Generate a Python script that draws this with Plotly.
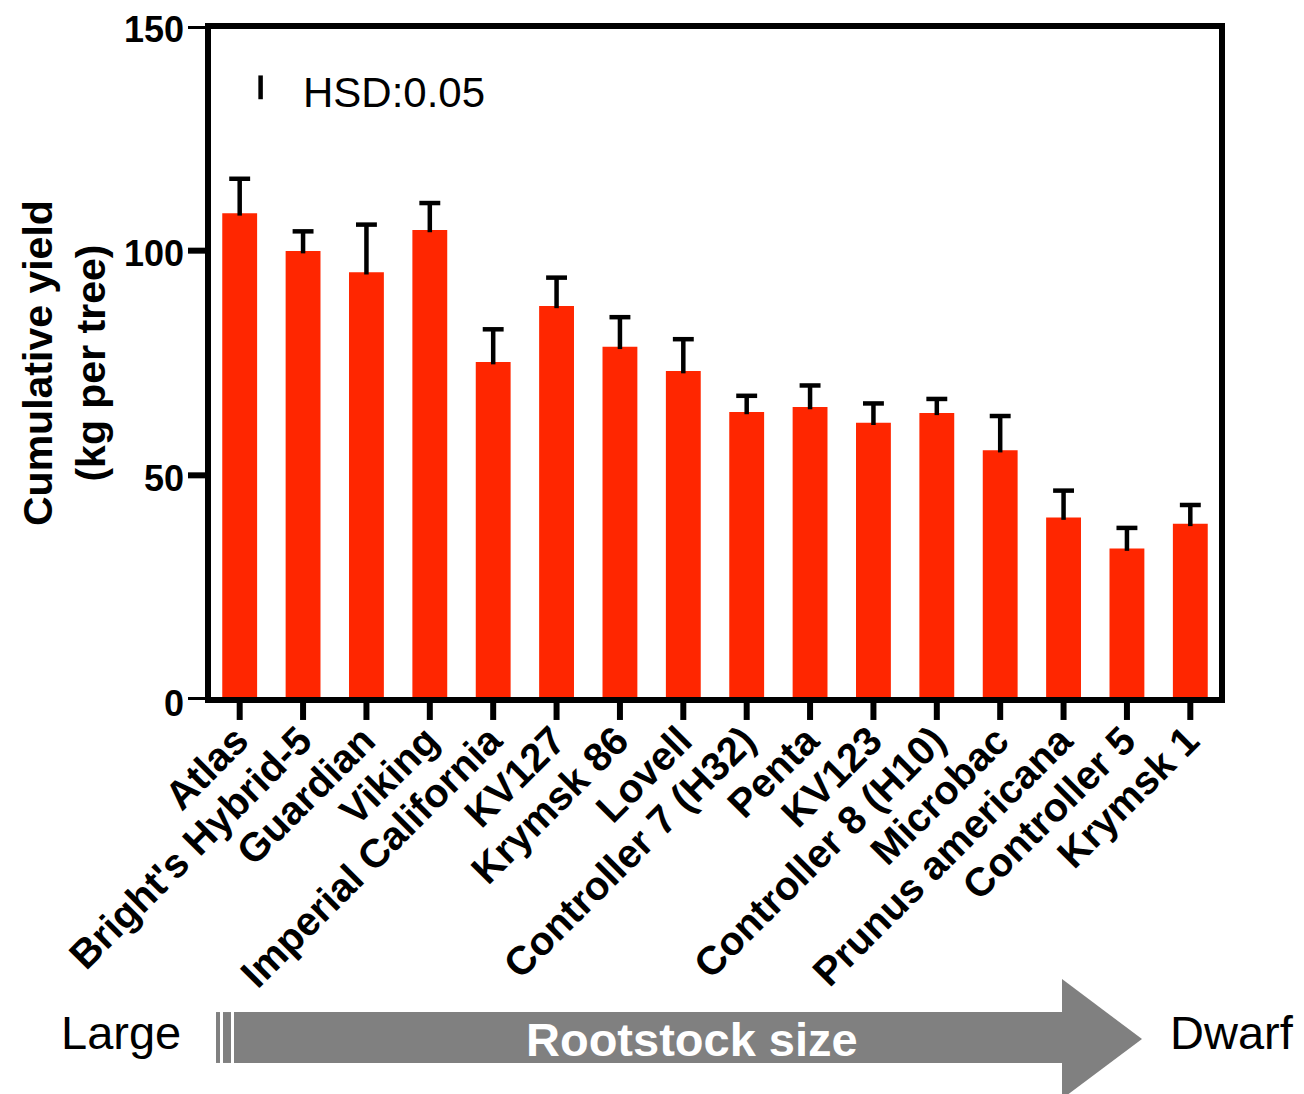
import plotly.graph_objects as go

# ---------------- data ----------------
categories = ["Atlas", "Bright's Hybrid-5", "Guardian", "Viking", "Imperial California",
              "KV127", "Krymsk 86", "Lovell", "Controller 7 (H32)", "Penta", "KV123",
              "Controller 8 (H10)", "Microbac", "Prunus americana", "Controller 5", "Krymsk 1"]
yield_kg = [108.3, 99.9, 95.2, 104.6, 75.2, 87.7, 78.6, 73.2, 64.1, 65.2, 61.7, 63.9,
            55.6, 40.6, 33.7, 39.2]
error_kg = [7.7, 4.4, 10.6, 6.0, 7.3, 6.3, 6.6, 7.1, 3.6, 4.8, 4.3, 3.1,
            7.6, 6.0, 4.6, 4.2]
y_ticks = [0, 50, 100, 150]
hsd_value = 5.3
hsd_label = "HSD:0.05"
y_title = "Cumulative yield<br>(kg per tree)"
arrow_label = "Rootstock size"
left_label = "Large"
right_label = "Dwarf"

# ---------------- layout geometry (pixels, in reference image coords) ----------------
OFF = 8                      # page body margin of the html page
W, H = 1304 - OFF, 1094 - OFF
PL, PR = 208, 1222           # plot area left/right (reference coords)
PT, PB = 25.5, 700.5         # plot area top/bottom (reference coords)
pw, ph = PR - PL, PB - PT
TICK = 20                    # tick length in px


def fx(x):
    return (x - PL) / pw


def fy(y):
    return (PB - y) / ph


bar_color = "#ff2600"
n = len(categories)
idx = list(range(n))

fig = go.Figure()
fig.add_trace(go.Bar(x=idx, y=yield_kg, width=0.55, marker=dict(color=bar_color, line=dict(width=0)),
                     showlegend=False, hoverinfo="skip"))

# upward-only error bars
cap = 0.165
ex, ey = [], []
for i, (v, e) in enumerate(zip(yield_kg, error_kg)):
    ex += [i, i, None, i - cap, i + cap, None]
    ey += [v - 0.5, v + e, None, v + e, v + e, None]
fig.add_trace(go.Scatter(x=ex, y=ey, mode="lines", line=dict(color="black", width=4.5),
                         showlegend=False, hoverinfo="skip"))

font_main = "Liberation Sans, Arial, sans-serif"

shapes = []
# frame
shapes.append(dict(type="rect", xref="paper", yref="paper", x0=0, y0=0, x1=1, y1=1,
                   line=dict(color="black", width=6), layer="above"))
# axis ticks (outside, 20 px)
for i in idx:
    shapes.append(dict(type="line", xref="x", yref="paper", x0=i, x1=i, y0=0, y1=fy(PB + TICK),
                       line=dict(color="black", width=6), layer="above"))
for t in y_ticks:
    shapes.append(dict(type="line", xref="paper", yref="y", x0=0, x1=fx(PL - TICK), y0=t, y1=t,
                       line=dict(color="black", width=6), layer="above"))
# HSD bar
hsd_x = 0.33
hsd_base = 133.7
shapes.append(dict(type="line", xref="x", yref="y", x0=hsd_x, x1=hsd_x, y0=hsd_base,
                   y1=hsd_base + hsd_value, line=dict(color="black", width=4.5)))
# arrow
gray = "#808080"
for (x0, x1) in [(216, 220), (223, 231), (234, 1063)]:
    shapes.append(dict(type="rect", xref="paper", yref="paper", x0=fx(x0), x1=fx(x1),
                       y0=fy(1064), y1=fy(1013), fillcolor=gray, line=dict(width=0)))
path = "M {},{} L {},{} L {},{} Z".format(fx(1062), fy(980), fx(1142), fy(1040), fx(1062), fy(1100))
shapes.append(dict(type="path", xref="paper", yref="paper", path=path, fillcolor=gray,
                   line=dict(width=0)))

annotations = [
    dict(text=hsd_label, xref="paper", yref="paper", x=fx(301), y=fy(92), xanchor="left",
         yanchor="middle", showarrow=False, font=dict(family=font_main, size=42, color="black")),
    dict(text="<b>" + y_title + "</b>", xref="paper", yref="paper", x=fx(64), y=fy(363),
         xanchor="center", yanchor="middle", textangle=-90, showarrow=False,
         font=dict(family=font_main, size=41, color="black")),
    dict(text="<b>" + arrow_label + "</b>", xref="paper", yref="paper", x=fx(692), y=fy(1041),
         xanchor="center", yanchor="middle", showarrow=False,
         font=dict(family=font_main, size=47, color="white")),
    dict(text=left_label, xref="paper", yref="paper", x=fx(121), y=fy(1033),
         xanchor="center", yanchor="middle", showarrow=False,
         font=dict(family=font_main, size=47, color="black")),
    dict(text=right_label, xref="paper", yref="paper", x=fx(1232), y=fy(1033),
         xanchor="center", yanchor="middle", showarrow=False,
         font=dict(family=font_main, size=47, color="black")),
]

fig.update_layout(
    width=W, height=H, autosize=False,
    margin=dict(l=PL - OFF, r=1304 - PR, t=PT - OFF, b=1094 - PB, pad=0, autoexpand=False),
    plot_bgcolor="white", paper_bgcolor="white",
    shapes=shapes, annotations=annotations,
    xaxis=dict(range=[-0.5, n - 0.5], tickmode="array", tickvals=idx,
               ticktext=["<b>" + c + "</b>" for c in categories], tickangle=-45,
               ticks="", showgrid=False, zeroline=False, showline=False, automargin=False,
               ticklabeloverflow="allow", ticklabelshift=-3, ticklabelstandoff=8,
               tickfont=dict(family=font_main, size=40, color="black")),
    yaxis=dict(range=[0, 150], tickmode="array", tickvals=y_ticks,
               ticktext=["<b>%d</b>" % t for t in y_ticks],
               ticks="", showgrid=False, zeroline=False, showline=False, automargin=False,
               ticklabeloverflow="allow", ticklabelstandoff=23, ticklabelshift=3,
               tickfont=dict(family=font_main, size=36, color="black")),
)

fig.write_html("out.html")
